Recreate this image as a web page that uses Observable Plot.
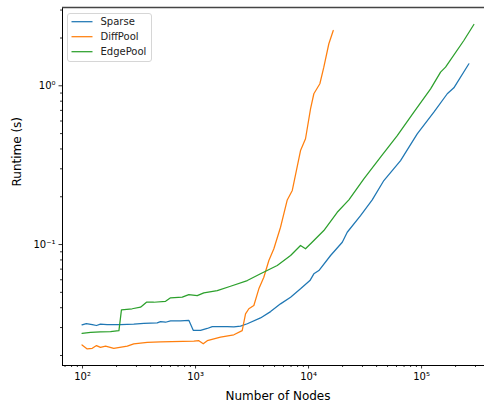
<!DOCTYPE html>
<html>
<head>
<meta charset="utf-8">
<script src="https://cdn.jsdelivr.net/npm/d3@7"></script>
<script src="https://cdn.jsdelivr.net/npm/@observablehq/plot@0.6"></script>
<style>
  html, body { margin: 0; padding: 0; background: white; overflow: hidden; }
  svg { display: block; }
</style>
</head>
<body>
<div id="chart"></div>
<script>
const seriesNames = ["Sparse", "DiffPool", "EdgePool"];
const seriesColors = ["#1f77b4", "#ff7f0e", "#2ca02c"];

const sparseN = [99, 108, 122, 133, 144, 165, 217, 284, 349, 458, 490, 543, 601, 736, 872, 954, 1107, 1270, 1406, 1909, 2183, 2500, 2871, 3758, 4613, 5649, 6934, 8492, 10280, 11140, 12340, 15660, 19880, 21990, 28840, 36600, 46370, 65160, 91540, 128500, 168800, 193100, 262300];
const sparseT = [0.0312, 0.0318, 0.0313, 0.0309, 0.0315, 0.0313, 0.0313, 0.0315, 0.0319, 0.0321, 0.0327, 0.0324, 0.0330, 0.0330, 0.0333, 0.0288, 0.0288, 0.0296, 0.0304, 0.0304, 0.0303, 0.0306, 0.0317, 0.0345, 0.0378, 0.0423, 0.0466, 0.0526, 0.0593, 0.0654, 0.0686, 0.0853, 0.1034, 0.1195, 0.152, 0.191, 0.253, 0.338, 0.498, 0.682, 0.891, 0.971, 1.376];

const diffN = [99, 110, 122, 133, 144, 160, 189, 249, 284, 374, 490, 966, 1070, 1170, 1270, 1664, 2183, 2588, 2769, 2963, 3281, 3631, 4020, 4454, 4932, 5649, 6480, 7178, 8492, 9400, 10420, 11140, 12590, 13650, 15120, 16540];
const diffT = [0.0233, 0.0220, 0.0222, 0.0231, 0.0225, 0.0229, 0.0222, 0.0229, 0.0237, 0.0242, 0.0244, 0.0246, 0.0248, 0.0237, 0.0248, 0.0261, 0.0270, 0.0287, 0.0366, 0.0394, 0.0413, 0.0526, 0.0622, 0.0793, 0.0940, 0.1285, 0.191, 0.219, 0.391, 0.464, 0.719, 0.891, 1.030, 1.310, 1.84, 2.23];

const edgeN = [99, 118, 144, 177, 210, 221, 275, 326, 368, 427, 543, 601, 763, 872, 1035, 1184, 1556, 2040, 2871, 3758, 5284, 6934, 8492, 9400, 11140, 13650, 17940, 22740, 30850, 43350, 60950, 85510, 120200, 147300, 163000, 236600, 290300];
const edgeT = [0.0276, 0.0280, 0.0282, 0.0283, 0.0287, 0.0388, 0.0394, 0.0403, 0.0433, 0.0433, 0.0439, 0.0462, 0.0466, 0.0484, 0.0477, 0.0496, 0.0513, 0.0546, 0.0593, 0.0654, 0.0738, 0.0853, 0.0986, 0.0940, 0.106, 0.1225, 0.1597, 0.1913, 0.2594, 0.355, 0.486, 0.682, 0.957, 1.219, 1.310, 1.929, 2.434];

const xMajorTicks = [1e2, 1e3, 1e4, 1e5];
const xMajorLabels = ["10²", "10³", "10⁴", "10⁵"];
const xMinorTicks = [70, 80, 90, 200, 300, 400, 500, 600, 700, 800, 900, 2000, 3000, 4000, 5000, 6000, 7000, 8000, 9000, 20000, 30000, 40000, 50000, 60000, 70000, 80000, 90000, 200000, 300000, 400000];
const yMajorTicks = [0.1, 1];
const yMajorLabels = ["10⁻¹", "10⁰"];
const yMinorTicks = [0.02, 0.03, 0.04, 0.05, 0.06, 0.07, 0.08, 0.09, 0.2, 0.3, 0.4, 0.5, 0.6, 0.7, 0.8, 0.9, 2, 3];

const xTitle = "Number of Nodes";
const yTitle = "Runtime (s)";

const toRows = (ns, ts, name) => ns.map((n, i) => ({n, t: ts[i], series: name}));
const rows = [
  ...toRows(sparseN, sparseT, "Sparse"),
  ...toRows(diffN, diffT, "DiffPool"),
  ...toRows(edgeN, edgeT, "EdgePool")
];

const xDomain = [66.5, 433000];
const yDomain = [0.0173, 3.113];
const font = "DejaVu Sans, sans-serif";

const chart = Plot.plot({
  width: 484,
  height: 405,
  marginLeft: 62,
  marginRight: 0,
  marginTop: 7,
  marginBottom: 40,
  style: {fontFamily: font, fontSize: "10px", background: "white", color: "black"},
  x: {type: "log", domain: xDomain, range: [62, 493], label: null},
  y: {type: "log", domain: yDomain, label: null},
  color: {domain: seriesNames, range: seriesColors},
  marks: [
    Plot.axisX(xMinorTicks, {tickSize: 2, text: null, strokeWidth: 0.8, label: null}),
    Plot.axisX(xMajorTicks, {tickSize: 3.5, tickPadding: 3.5, strokeWidth: 0.8, tickFormat: (d) => xMajorLabels[xMajorTicks.indexOf(d)], fontSize: 10, label: null}),
    Plot.axisY(yMinorTicks, {tickSize: 2, text: null, strokeWidth: 0.8, label: null}),
    Plot.axisY(yMajorTicks, {tickSize: 3.5, tickPadding: 3.5, strokeWidth: 0.8, tickFormat: (d) => yMajorLabels[yMajorTicks.indexOf(d)], fontSize: 10, label: null}),
    Plot.lineY(rows, {x: "n", y: "t", z: "series", stroke: "series", strokeWidth: 1.25}),
    Plot.ruleX([xDomain[0]], {stroke: "black", strokeWidth: 1}),
    Plot.ruleY([yDomain[0]], {stroke: "black", strokeWidth: 1}),
    Plot.ruleY([yDomain[1]], {stroke: "#444", strokeWidth: 1.5}),
    Plot.text([xTitle], {frameAnchor: "bottom", dx: 4.5, dy: 34, lineAnchor: "bottom", fontSize: 12, fontFamily: font}),
    Plot.text([yTitle], {frameAnchor: "left", dx: -45, rotate: -90, fontSize: 12, fontFamily: font})
  ]
});

// legend
const svg = d3.select(chart);
const lg = svg.append("g").attr("font-family", font).attr("font-size", 10).attr("text-anchor", "start");
lg.append("rect").attr("x", 67.5).attr("y", 13.5).attr("width", 84).attr("height", 48)
  .attr("rx", 2.5).attr("fill", "white").attr("fill-opacity", 0.8).attr("stroke", "#d6d6d6");
seriesNames.forEach((name, i) => {
  const cy = 21.7 + i * 15;
  lg.append("line").attr("x1", 71.5).attr("x2", 92.5).attr("y1", cy).attr("y2", cy)
    .attr("stroke", seriesColors[i]).attr("stroke-width", 1.25);
  lg.append("text").attr("x", 100.5).attr("y", cy).attr("dy", "0.35em").attr("fill", "#222")
    .attr("text-anchor", "start").text(name);
});

document.getElementById("chart").appendChild(chart);
</script>
</body>
</html>
